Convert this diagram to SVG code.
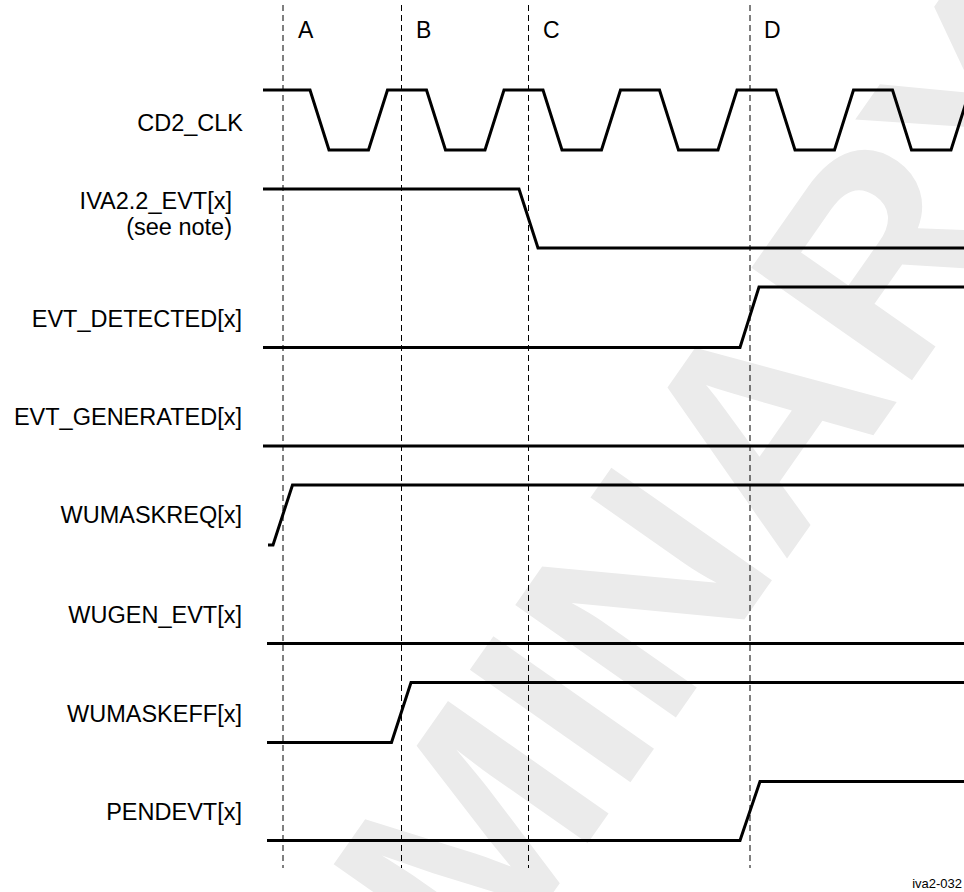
<svg xmlns="http://www.w3.org/2000/svg" width="964" height="892" viewBox="0 0 964 892">
<style>
.lbl{font-family:"Liberation Sans",Arial,sans-serif;font-size:23.5px;fill:#000;text-anchor:end}
.mk{font-family:"Liberation Sans",Arial,sans-serif;font-size:23px;fill:#000}
.sig{fill:none;stroke:#000;stroke-width:3;stroke-linejoin:miter;stroke-linecap:butt}
.grid{stroke:#000;stroke-width:1;stroke-dasharray:6 4;fill:none}
.wm{font-family:"Liberation Sans",Arial,sans-serif;font-weight:bold;font-size:285px;fill:#ebebeb;text-anchor:middle}
</style>
<rect width="964" height="892" fill="#fff"/>
<text class="wm" transform="translate(562,880) rotate(-55)">PRELIMINARY</text>
<g id="markers">
<line class="grid" x1="283" y1="5" x2="283" y2="868"/>
<line class="grid" x1="401.5" y1="5" x2="401.5" y2="868"/>
<line class="grid" x1="528.5" y1="5" x2="528.5" y2="868"/>
<line class="grid" x1="750" y1="5" x2="750" y2="868"/>
<text class="mk" x="298" y="38">A</text>
<text class="mk" x="416" y="38">B</text>
<text class="mk" x="543" y="38">C</text>
<text class="mk" x="764" y="38">D</text>
</g>
<g id="labels">
<text class="lbl" x="243" y="130.5">CD2_CLK</text>
<text class="lbl" x="232" y="209">IVA2.2_EVT[x]</text>
<text class="lbl" x="232" y="235">(see note)</text>
<text class="lbl" x="242" y="326.5">EVT_DETECTED[x]</text>
<text class="lbl" x="242" y="425">EVT_GENERATED[x]</text>
<text class="lbl" x="242" y="523">WUMASKREQ[x]</text>
<text class="lbl" x="242" y="623">WUGEN_EVT[x]</text>
<text class="lbl" x="242" y="721.5">WUMASKEFF[x]</text>
<text class="lbl" x="242" y="820">PENDEVT[x]</text>
</g>
<g id="waveforms">
<path id="cd2_clk" class="sig" d="M263,90 H310 L329,150 H368.5 L387.5,90 H426.5 L445.5,150 H485 L504,90 H543 L562,150 H601.5 L620.5,90 H659.5 L678.5,150 H718 L737,90 H776 L795,150 H834.5 L853.5,90 H892.5 L911.5,150 H951 L970,90"/>
<path id="iva_evt" class="sig" d="M263,189 H519 L538,248 H964"/>
<path id="evt_detected" class="sig" d="M263,347.5 H740 L759,287 H964"/>
<path id="evt_generated" class="sig" d="M263,446 H964"/>
<path id="wumaskreq" class="sig" d="M268,545 H273 L292.5,485 H964"/>
<path id="wugen_evt" class="sig" d="M267,643.5 H964"/>
<path id="wumaskeff" class="sig" d="M267,742.5 H391.5 L411,682.5 H964"/>
<path id="pendevt" class="sig" d="M267,840.5 H740 L760,781.5 H964"/>
</g>
<text x="962" y="888" style="font-family:'Liberation Sans',Arial,sans-serif;font-size:13px;fill:#000;text-anchor:end">iva2-032</text>
</svg>
